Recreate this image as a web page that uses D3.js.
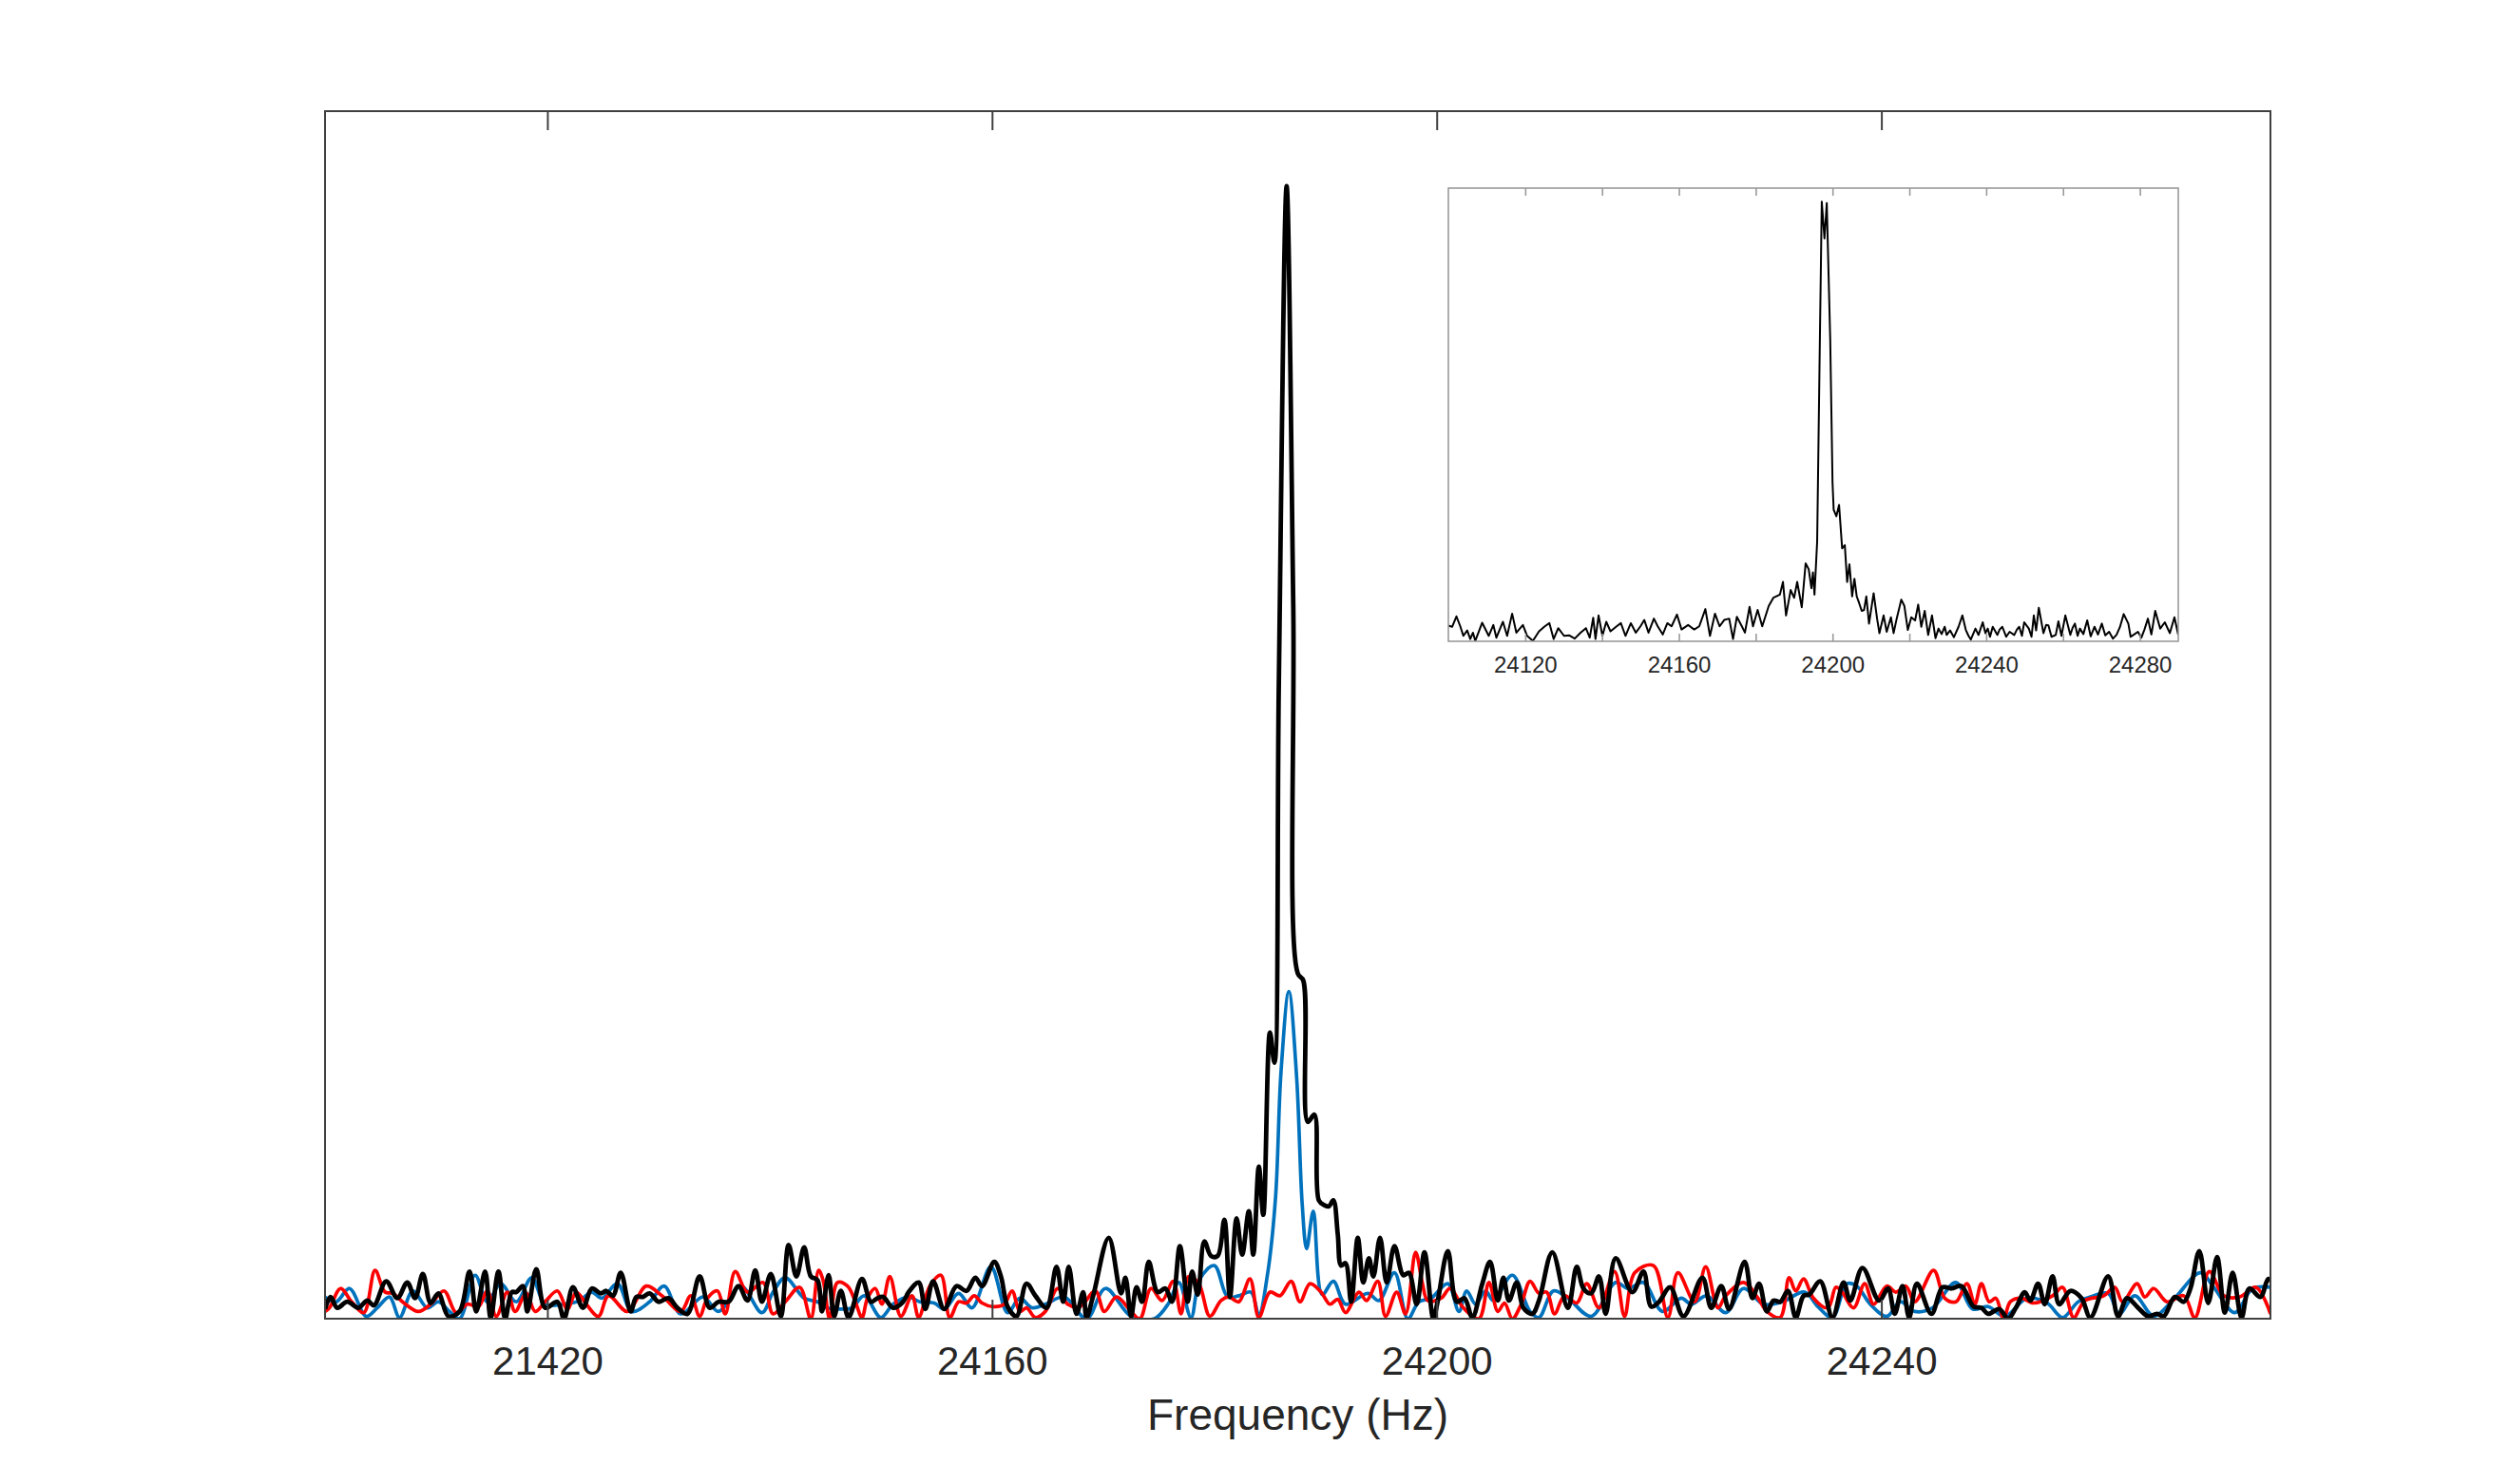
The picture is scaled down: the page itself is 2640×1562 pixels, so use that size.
<!DOCTYPE html>
<html>
<head>
<meta charset="utf-8">
<script src="https://cdn.jsdelivr.net/npm/d3@7"></script>
<style>
  html, body { margin: 0; padding: 0; background: #ffffff; }
  svg { display: block; }
  text { font-family: "Liberation Sans", Arial, Helvetica, sans-serif; fill: #262626; }
</style>
</head>
<body>
<svg id="chart" width="2640" height="1562"></svg>
<script>
// ---------------- DATA ----------------
const mainDomain = [24100, 24275];
const mainTicks = [24120, 24160, 24200, 24240];
const mainTickLabels = ["21420", "24160", "24200", "24240"];
const xLabel = "Frequency (Hz)";

const insetDomain = [24100, 24290];
const insetTicks = [24120, 24140, 24160, 24180, 24200, 24220, 24240, 24260, 24280];
const insetTickLabels = ["24120", "", "24160", "", "24200", "", "24240", "", "24280"];

// [frequency (Hz), amplitude (a.u.)]
const blackSeries = [
[24100.0,0.8],[24100.5,1.8],[24101.1,0.9],[24102.0,1.4],[24103.0,0.9],[24103.8,1.5],[24104.4,1.1],[24105.5,3.1],[24106.5,1.7],[24107.4,3.0],[24108.1,1.7],[24108.8,3.7],[24109.5,1.3],[24110.2,2.1],[24111.1,0.2],[24112.1,0.6],[24113.0,3.9],[24113.6,0.6],[24114.4,3.9],[24114.9,0.1],[24115.6,3.9],[24116.2,0.0],[24116.8,2.2],[24117.2,2.2],[24117.8,2.7],[24118.2,0.6],[24119.0,4.1],[24119.8,0.9],[24120.9,1.4],[24121.5,0.0],[24122.3,2.6],[24123.2,0.9],[24124.0,2.5],[24124.8,2.1],[24125.3,2.3],[24125.9,1.9],[24126.6,3.8],[24127.5,0.6],[24128.0,1.8],[24128.6,1.8],[24129.2,2.1],[24130.0,1.4],[24130.9,1.7],[24131.7,0.9],[24132.6,0.4],[24133.7,3.5],[24134.6,0.9],[24135.4,1.4],[24136.3,1.4],[24137.2,2.7],[24138.0,1.5],[24138.7,4.0],[24139.3,1.4],[24140.1,3.7],[24141.0,0.2],[24141.7,6.1],[24142.4,3.5],[24143.1,5.9],[24143.7,3.5],
[24144.3,3.2],[24144.7,0.6],[24145.3,3.6],[24145.8,0.2],[24146.4,2.3],[24147.1,0.1],[24148.3,3.3],[24149.1,1.4],[24149.7,1.7],[24150.2,1.8],[24151.1,0.9],[24152.0,1.4],[24152.5,2.2],[24153.4,3.0],[24154.0,0.8],[24154.7,3.1],[24155.7,0.8],[24156.8,2.7],[24157.7,2.3],[24158.5,3.4],[24159.1,2.7],[24160.2,4.7],[24160.8,3.5],[24161.4,1.0],[24162.2,0.2],[24163.1,2.9],[24163.9,1.9],[24164.9,0.9],[24165.8,4.3],[24166.4,1.4],[24166.9,4.3],[24167.6,0.4],[24168.2,2.2],[24168.5,0.1],[24169.1,1.9],[24170.5,6.7],[24171.6,2.1],[24172.0,3.4],[24172.5,0.2],[24173.0,2.6],[24173.5,1.4],[24174.1,4.7],[24174.9,2.2],[24175.6,2.5],[24176.2,1.4],[24176.9,6.0],[24177.6,1.4],[24178.0,3.9],
[24178.5,2.0],[24179.1,6.4],[24179.7,5.2],[24180.3,5.2],[24180.9,8.2],[24181.4,1.8],[24182.0,8.3],[24182.5,5.3],[24183.1,8.9],[24183.5,5.3],[24184.0,12.6],[24184.4,8.6],[24185.0,23.7],[24185.4,21.2],[24185.8,52.7],[24186.5,93.8],[24187.1,58.9],[24187.5,28.6],[24188.0,28.0],[24188.4,16.3],[24189.0,16.9],[24189.4,9.8],[24189.9,9.4],[24190.3,9.3],[24190.7,9.8],[24191.1,7.0],[24191.4,4.4],[24191.8,4.6],
[24192.3,1.4],[24192.9,6.7],[24193.4,3.0],[24193.9,5.0],[24194.3,3.5],[24194.9,6.7],[24195.5,3.0],[24196.2,6.0],[24197.0,3.6],[24197.5,3.8],[24198.2,1.2],[24198.9,5.5],[24199.7,0.0],[24200.1,1.5],[24201.0,5.6],[24201.8,1.4],[24202.5,1.7],[24203.2,0.1],[24204.1,2.9],[24204.8,4.7],[24205.5,1.5],[24206.0,3.4],[24206.5,1.5],[24207.2,3.0],[24207.8,0.9],[24208.6,0.4],[24209.2,1.5],[24210.4,5.5],[24211.8,0.9],[24212.6,4.3],[24213.2,2.5],[24213.9,2.1],[24214.6,3.5],[24215.2,0.4],[24216.1,5.0],[24217.6,2.2],[24218.6,3.9],[24219.3,1.0],[24220.0,1.4],[24221.0,2.6],[24222.2,0.2],[24223.9,3.4],[24224.7,0.9],[24225.6,2.7],[24226.3,0.8],[24227.7,4.7],[24228.4,1.7],[24229.0,2.9],[24229.7,0.6],[24230.3,1.5],[24230.9,1.4],[24231.6,2.3],[24232.3,0.1],[24233.0,1.9],
[24233.5,2.0],[24234.5,3.1],[24235.6,0.1],[24236.6,3.0],[24237.2,1.5],[24238.3,4.2],[24239.8,1.5],[24240.6,2.5],[24241.2,0.4],[24241.9,2.7],[24242.5,0.1],[24243.2,2.9],[24244.5,0.4],[24245.5,2.6],[24246.3,2.5],[24247.2,2.7],[24248.3,1.0],[24249.0,0.9],[24249.6,0.4],[24250.6,0.8],[24251.4,0.0],[24252.1,0.9],[24252.9,2.2],[24253.4,1.5],[24254.1,2.9],[24254.7,1.2],[24255.4,3.5],[24256.0,1.2],[24257.0,2.3],[24258.0,1.7],[24258.8,0.1],[24260.4,3.5],[24261.3,0.2],[24262.1,1.7],[24263.1,0.9],[24264.0,0.2],[24264.8,0.4],[24265.4,0.2],[24266.4,1.8],[24267.2,1.4],[24267.8,2.5],[24268.6,5.6],[24269.4,1.3],[24270.2,5.1],[24270.9,0.5],[24271.6,3.8],[24272.4,0.1],[24273.1,2.5],[24274.1,1.8],[24274.8,3.3],[24275.2,3.0]
];

const blueSeries = [
[24100.0,1.8],[24101.0,1.4],[24102.2,2.5],[24103.7,0.2],[24104.7,0.9],[24105.8,1.8],[24106.7,0.1],[24107.9,2.3],[24109.2,0.9],[24110.2,1.4],[24111.2,0.6],[24112.1,0.0],[24113.5,3.6],[24114.6,1.4],[24115.8,2.9],[24117.2,1.4],[24118.6,3.4],[24119.8,1.2],[24121.5,1.2],[24122.9,1.5],[24124.0,2.2],[24124.9,1.7],[24126.3,2.9],[24127.6,0.6],[24129.2,1.4],[24130.5,2.7],[24132.0,0.4],[24134.0,1.8],[24135.4,0.6],[24137.4,2.7],[24139.3,0.5],[24140.3,2.2],[24141.4,3.4],[24143.1,1.7],
[24144.3,1.4],[24145.1,0.9],[24146.3,0.8],[24147.4,0.9],[24148.5,1.9],[24150.0,0.1],[24151.1,1.2],[24152.5,1.8],[24153.5,1.4],[24154.8,1.3],[24155.7,0.8],[24157.0,2.1],[24158.2,0.9],[24159.9,4.3],[24161.4,0.5],[24162.5,1.7],[24163.6,0.9],[24164.8,1.2],[24166.5,1.8],[24168.5,0.0],[24170.2,2.5],[24172.5,0.2],[24174.6,0.0],[24175.9,1.3],[24176.8,3.0],[24177.9,0.1],[24178.7,3.3],[24180.0,4.4],[24181.2,1.8],[24182.2,1.9],[24183.3,2.2],[24184.0,0.3],[24184.8,3.8],
[24185.5,10.0],[24186.0,20.5],[24186.7,27.1],[24187.4,20.0],[24187.9,9.5],[24188.3,5.8],[24188.9,8.9],[24189.7,2.0],[24190.7,3.1],
[24191.8,1.2],[24193.8,2.1],[24194.8,1.5],[24196.2,3.8],[24197.4,0.0],[24198.4,1.4],[24199.5,1.7],[24201.0,2.9],[24202.0,0.6],[24202.7,2.3],[24203.5,1.2],[24204.4,2.3],[24205.1,1.5],[24206.8,3.6],[24208.4,0.6],[24209.2,0.1],[24210.5,2.3],[24211.8,1.7],[24213.9,0.2],[24216.1,3.0],[24217.2,2.5],[24218.6,3.0],[24220.3,0.6],[24222.0,1.7],[24222.9,1.2],[24224.3,1.9],[24226.0,0.5],[24227.6,2.5],[24229.4,1.2],[24231.1,1.4],[24233.1,2.2],
[24234.3,1.0],[24235.6,0.1],[24236.9,2.9],[24237.8,2.7],[24239.0,1.2],[24240.5,0.2],[24241.7,1.4],[24243.0,0.6],[24244.6,0.9],[24246.7,3.0],[24248.2,0.8],[24249.6,1.0],[24251.1,0.2],[24253.1,1.7],[24254.9,1.3],[24256.3,0.1],[24257.7,1.4],[24258.8,1.8],[24260.4,2.1],[24261.4,0.4],[24262.8,1.9],[24264.5,0.2],[24266.2,1.5],[24268.7,3.8],[24269.9,2.6],[24271.8,0.5],[24273.4,2.5],[24275.0,2.6]
];

const redSeries = [
[24100.0,0.6],[24100.4,0.9],[24101.4,2.5],[24102.4,1.4],[24103.5,0.5],[24104.5,4.0],[24105.4,2.2],[24106.1,2.1],[24107.1,1.3],[24108.4,0.6],[24109.5,1.2],[24110.7,2.3],[24111.8,0.5],[24112.8,1.2],[24113.8,1.0],[24114.6,2.3],[24115.4,0.2],[24116.4,2.2],[24117.1,0.6],[24118.1,2.1],[24118.9,0.6],[24119.8,1.4],[24120.9,2.3],[24121.8,0.8],[24122.6,2.2],[24123.5,1.2],[24124.6,0.2],[24125.5,1.9],[24127.2,0.6],[24128.9,2.7],[24130.3,1.9],[24132.0,0.6],[24132.9,1.9],[24133.7,0.2],[24134.4,1.7],[24135.3,2.3],[24136.0,0.4],[24136.9,3.9],[24138.0,2.2],[24139.4,3.0],[24140.3,0.4],[24141.4,1.4],[24142.7,2.6],[24143.7,0.0],
[24144.4,4.0],[24144.8,3.2],[24145.4,0.0],[24146.1,3.0],[24147.0,2.7],[24147.7,1.4],[24148.3,0.1],[24148.8,1.7],[24149.5,2.5],[24150.1,1.2],[24150.8,3.5],[24151.8,0.2],[24152.8,1.9],[24153.4,0.1],[24154.4,2.7],[24155.4,3.6],[24156.2,0.1],[24157.0,1.4],[24157.7,1.3],[24158.4,1.9],[24159.1,1.3],[24160.1,1.0],[24161.1,1.2],[24161.8,2.3],[24162.5,0.6],[24163.1,0.9],[24163.9,0.1],[24164.8,0.6],[24165.9,2.5],[24166.8,1.2],[24167.9,1.0],[24169.3,2.3],[24170.1,0.6],[24171.2,1.8],[24172.5,0.6],[24173.3,0.0],[24174.3,2.5],[24175.3,1.5],[24176.3,3.1],[24177.0,0.4],[24177.7,3.5],[24178.6,2.9],[24179.6,0.2],[24180.6,1.5],[24181.3,1.8],[24182.2,1.4],[24183.2,3.3],[24184.0,0.1],[24185.0,2.2],[24185.9,1.9],[24186.9,3.1],[24187.7,1.4],[24188.6,2.9],
[24189.6,2.2],[24190.4,1.2],[24191.1,1.6],[24191.8,0.5],[24193.0,2.2],[24193.7,1.5],[24194.7,3.1],[24195.4,0.2],[24196.4,2.2],[24197.2,0.4],[24198.1,5.5],[24198.7,3.0],[24199.2,1.5],[24200.4,1.7],[24201.2,2.5],[24202.4,0.9],[24203.8,0.0],[24204.7,3.0],[24205.5,0.6],[24206.1,1.3],[24206.8,0.0],[24207.6,1.2],[24208.4,3.1],[24209.2,2.1],[24209.9,2.2],[24210.6,0.4],[24211.5,1.9],[24212.6,1.3],[24213.5,2.9],[24214.6,0.9],[24216.0,3.9],[24216.9,0.2],[24217.8,3.8],[24219.5,4.4],[24220.8,0.1],[24221.7,3.8],[24223.2,1.4],[24224.2,4.3],[24225.3,0.9],[24226.0,1.9],[24227.6,3.0],[24228.9,1.7],[24229.7,0.6],[24230.9,0.1],[24231.7,3.4],[24232.3,2.3],[24233.0,3.3],
[24233.9,1.7],[24235.2,0.9],[24235.9,2.6],[24236.4,2.3],[24237.5,0.9],[24238.5,2.9],[24239.3,1.2],[24240.5,2.7],[24241.3,2.2],[24242.2,2.7],[24243.0,1.4],[24244.7,4.0],[24245.7,1.7],[24246.7,1.4],[24247.7,2.9],[24248.4,1.2],[24249.0,2.9],[24249.7,1.4],[24250.3,1.7],[24251.0,0.0],[24251.6,1.4],[24252.6,1.7],[24253.7,1.3],[24255.4,1.9],[24256.3,2.6],[24257.3,0.1],[24258.3,1.5],[24260.0,1.9],[24261.0,2.6],[24261.7,1.4],[24263.0,2.9],[24263.7,1.8],[24264.5,2.5],[24265.7,1.4],[24267.2,1.9],[24268.2,0.1],[24269.5,3.9],[24270.8,1.9],[24272.2,1.8],[24273.7,2.6],[24275.0,0.4]
];

const insetSeries = [
[24100.0,3.5],[24100.2,3.4],[24101.0,3.2],[24102.1,5.5],[24103.1,3.3],[24103.9,1.2],[24104.9,2.4],[24105.7,0.5],[24106.4,1.9],[24107.0,0.1],[24108.8,4.1],[24110.5,1.2],[24111.7,3.6],[24112.5,0.8],[24114.2,4.3],[24115.3,1.2],[24116.6,6.1],[24117.7,1.9],[24119.4,3.6],[24120.5,1.2],[24122.0,0.1],[24123.6,2.2],[24125.1,3.3],[24126.3,4.0],[24127.4,0.5],[24128.6,2.9],[24130.1,1.2],[24131.5,1.3],[24132.9,0.6],[24134.4,1.9],[24135.8,2.9],[24136.8,0.8],[24137.7,5.2],[24138.3,0.5],[24139.1,5.7],[24140.1,1.2],[24141.1,4.3],[24142.2,2.2],[24143.8,3.3],[24144.9,4.0],[24146.1,1.2],[24147.5,4.0],[24148.8,1.9],[24150.0,3.3],[24151.0,4.7],[24152.1,1.9],[24153.5,5.0],[24154.5,3.3],[24155.8,1.5],[24157.0,4.0],[24158.1,3.3],[24159.5,5.9],[24160.7,2.6],[24162.4,3.6],[24164.0,2.6],[24165.3,3.3],[24166.9,7.1],[24168.1,1.2],[24169.4,6.1],[24170.6,3.3],[24171.8,4.7],[24173.1,5.0],[24174.1,0.5],[24175.1,5.4],[24176.4,3.3],[24177.2,1.9],[24178.4,7.6],[24179.3,3.3],[24180.5,6.9],[24181.7,3.3],[24183.4,7.8],[24184.6,9.6],[24186.3,10.3],[24187.1,13.1],[24187.9,5.7],[24189.1,11.3],[24190.0,9.6],[24190.8,13.1],[24192.0,7.5],[24193.0,17.2],[24193.8,15.9],[24194.5,11.7],[24194.9,15.2],[24195.3,10.3],
[24196.0,22.0],[24196.6,60.0],[24197.2,97.0],[24197.9,88.9],[24198.5,96.7],[24199.4,66.6],[24200.0,35.0],[24200.3,29.0],[24201.0,27.6],[24201.7,30.1],[24202.5,20.5],[24203.2,21.2],[24203.8,13.1],[24204.4,17.0],[24205.1,9.9],[24205.7,13.8],[24206.3,9.9],[24206.9,8.5],[24207.6,6.7],[24208.2,6.9],[24208.8,9.9],[24209.5,3.9],[24210.7,10.6],[24211.6,5.0],[24212.2,1.8],[24213.3,5.7],[24214.1,2.1],[24215.2,5.3],[24215.9,1.8],[24216.7,5.0],[24217.9,9.2],[24218.7,7.8],[24219.6,2.5],[24220.5,5.3],[24221.5,4.6],[24222.3,8.1],[24223.1,3.2],[24224.0,6.7],[24224.9,1.4],[24225.9,5.7],[24226.8,0.7],[24227.6,2.8],[24228.4,1.6],[24229.2,3.2],[24229.7,1.4],[24230.6,2.4],[24231.6,0.9],[24232.8,3.2],[24233.8,5.7],[24234.7,2.5],[24235.4,1.2],[24236.0,0.4],[24237.2,2.8],[24238.0,1.4],[24239.1,4.2],[24239.8,1.8],[24240.4,2.8],[24241.0,1.0],[24241.7,3.2],[24242.9,1.4],[24243.5,2.6],[24244.2,3.2],[24245.2,1.0],[24246.1,2.1],[24247.3,1.4],[24248.0,2.6],[24248.6,3.2],[24249.3,1.2],[24249.9,4.2],[24251.1,2.8],[24251.8,1.0],[24252.4,5.7],[24253.0,2.4],[24253.7,7.4],[24254.9,1.8],[24255.6,3.6],[24256.2,3.5],[24257.0,1.0],[24258.1,1.4],[24258.8,4.4],[24259.6,1.2],[24260.6,5.7],[24261.9,1.4],[24262.5,3.0],[24263.1,3.9],[24263.8,1.2],[24264.4,2.8],[24265.3,1.6],[24266.3,4.6],[24267.2,1.1],[24268.2,3.2],[24269.1,1.5],[24270.1,3.9],[24271.0,1.3],[24272.0,2.1],[24273.0,0.6],[24273.9,1.4],[24274.8,3.1],[24275.8,6.0],[24277.0,3.9],[24277.6,1.0],[24278.3,1.4],[24279.5,2.1],[24280.4,0.8],[24281.2,2.6],[24282.1,5.0],[24283.0,1.5],[24284.0,6.7],[24285.3,2.8],[24286.5,4.2],[24287.8,1.8],[24289.0,5.3],[24290.0,1.4]
];

// ---------------- LAYOUT ----------------
const svg = d3.select("#chart");
svg.append("rect").attr("width", 2640).attr("height", 1562).attr("fill", "#ffffff");

const M = { left: 342, right: 2389, top: 117, bottom: 1388 };
const x = d3.scaleLinear().domain(mainDomain).range([M.left, M.right]);
const y = d3.scaleLinear().domain([0, 100]).range([M.bottom, M.top]);

svg.append("defs").append("clipPath").attr("id", "mainClip")
  .append("rect").attr("x", M.left).attr("y", M.top)
  .attr("width", M.right - M.left).attr("height", M.bottom - M.top);

const line = d3.line()
  .x(d => x(d[0])).y(d => y(d[1]))
  .curve(d3.curveCatmullRom.alpha(0.5));

const plot = svg.append("g").attr("clip-path", "url(#mainClip)");
plot.append("path").datum(blueSeries).attr("d", line)
  .attr("fill", "none").attr("stroke", "#0072BD").attr("stroke-width", 3.7).attr("stroke-linejoin", "round");
plot.append("path").datum(redSeries).attr("d", line)
  .attr("fill", "none").attr("stroke", "#FF0000").attr("stroke-width", 3.7).attr("stroke-linejoin", "round");
plot.append("path").datum(blackSeries).attr("d", line)
  .attr("fill", "none").attr("stroke", "#000000").attr("stroke-width", 4.8).attr("stroke-linejoin", "round");

// frame
svg.append("rect").attr("x", M.left).attr("y", M.top)
  .attr("width", M.right - M.left).attr("height", M.bottom - M.top)
  .attr("fill", "none").attr("stroke", "#404040").attr("stroke-width", 2);

// bottom axis (inward ticks)
const xAxis = d3.axisBottom(x).tickValues(mainTicks)
  .tickFormat((d, i) => mainTickLabels[i]).tickSizeInner(-20).tickSizeOuter(0);
const gx = svg.append("g").attr("transform", `translate(0,${M.bottom})`).call(xAxis);
gx.select(".domain").remove();
gx.selectAll(".tick line").attr("stroke", "#404040").attr("stroke-width", 2);
gx.selectAll(".tick text").attr("y", 59).attr("dy", null)
  .attr("font-size", 42).attr("fill", "#262626")
  .style("font-family", '"Liberation Sans", Arial, Helvetica, sans-serif');

// top axis ticks (no labels)
const xTop = d3.axisTop(x).tickValues(mainTicks).tickFormat("").tickSizeInner(-20).tickSizeOuter(0);
const gt = svg.append("g").attr("transform", `translate(0,${M.top})`).call(xTop);
gt.select(".domain").remove();
gt.selectAll(".tick line").attr("stroke", "#404040").attr("stroke-width", 2);

// x label
svg.append("text").attr("x", (M.left + M.right) / 2).attr("y", 1505)
  .attr("text-anchor", "middle").attr("font-size", 46).text(xLabel);

// ---------------- INSET ----------------
const I = { left: 1524, right: 2292, top: 198, bottom: 675 };
const xi = d3.scaleLinear().domain(insetDomain).range([I.left, I.right]);
const yi = d3.scaleLinear().domain([0, 100]).range([I.bottom, I.top]);

svg.append("rect").attr("x", I.left).attr("y", I.top)
  .attr("width", I.right - I.left).attr("height", I.bottom - I.top)
  .attr("fill", "#ffffff");

svg.append("defs").append("clipPath").attr("id", "insetClip")
  .append("rect").attr("x", I.left).attr("y", I.top)
  .attr("width", I.right - I.left).attr("height", I.bottom - I.top);

const lineI = d3.line().x(d => xi(d[0])).y(d => yi(d[1])).curve(d3.curveLinear);
svg.append("g").attr("clip-path", "url(#insetClip)")
  .append("path").datum(insetSeries).attr("d", lineI)
  .attr("fill", "none").attr("stroke", "#000000").attr("stroke-width", 2).attr("stroke-linejoin", "round");

svg.append("rect").attr("x", I.left).attr("y", I.top)
  .attr("width", I.right - I.left).attr("height", I.bottom - I.top)
  .attr("fill", "none").attr("stroke", "#9a9a9a").attr("stroke-width", 1.6);

const xiAxis = d3.axisBottom(xi).tickValues(insetTicks)
  .tickFormat((d, i) => insetTickLabels[i]).tickSizeInner(-8).tickSizeOuter(0);
const gxi = svg.append("g").attr("transform", `translate(0,${I.bottom})`).call(xiAxis);
gxi.select(".domain").remove();
gxi.selectAll(".tick line").attr("stroke", "#9a9a9a").attr("stroke-width", 1.6);
gxi.selectAll(".tick text").attr("y", 33).attr("dy", null)
  .attr("font-size", 24).attr("fill", "#262626")
  .style("font-family", '"Liberation Sans", Arial, Helvetica, sans-serif');

const xiTop = d3.axisTop(xi).tickValues(insetTicks).tickFormat("").tickSizeInner(-8).tickSizeOuter(0);
const gti = svg.append("g").attr("transform", `translate(0,${I.top})`).call(xiTop);
gti.select(".domain").remove();
gti.selectAll(".tick line").attr("stroke", "#9a9a9a").attr("stroke-width", 1.6);
</script>
</body>
</html>
